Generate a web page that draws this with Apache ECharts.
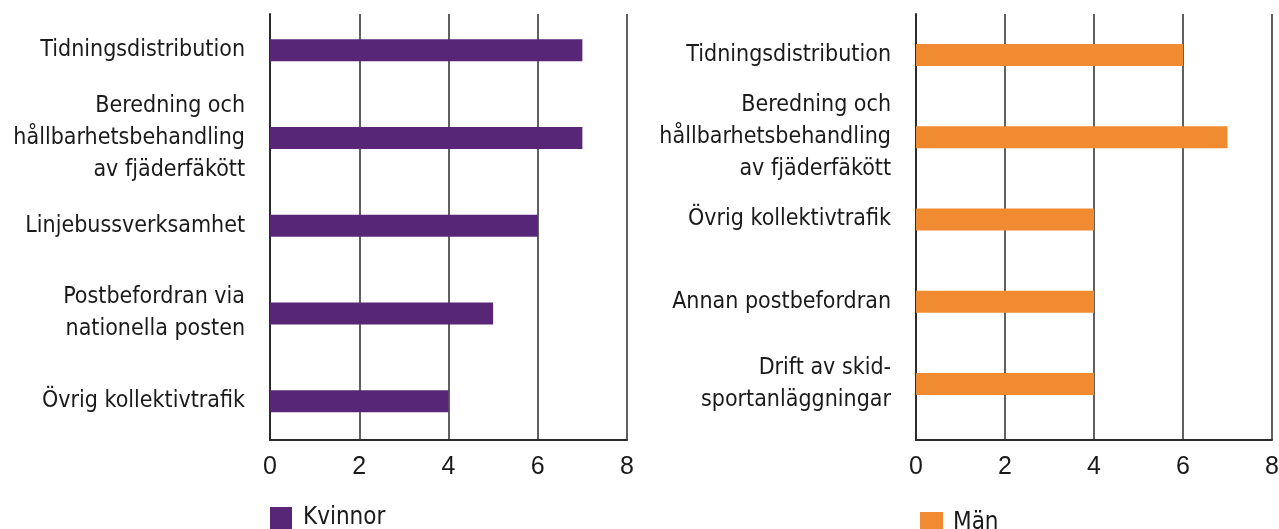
<!DOCTYPE html>
<html>
<head>
<meta charset="utf-8">
<script src="https://cdn.jsdelivr.net/npm/echarts@6/dist/echarts.min.js"></script>
<style>
html,body{margin:0;padding:0;background:#fff;}
#chart{width:1279px;height:529px;}
</style>
</head>
<body>
<div id="chart"></div>
<script>
const womenCategories = ['Tidningsdistribution', 'Beredning och\nhållbarhetsbehandling\nav fjäderfäkött', 'Linjebussverksamhet', 'Postbefordran via\nnationella posten', 'Övrig kollektivtrafik'];
const womenValues = [7, 7, 6, 5, 4];
const menCategories = ['Tidningsdistribution', 'Beredning och\nhållbarhetsbehandling\nav fjäderfäkött', 'Övrig kollektivtrafik', 'Annan postbefordran', 'Drift av skid-\nsportanläggningar'];
const menValues = [6, 7, 4, 4, 4];
const xTicks = [0, 2, 4, 6, 8];
const womenName = 'Kvinnor';
const menName = 'Män';

const FONT = '"DejaVu Sans Condensed", "DejaVu Sans", sans-serif';
const TICKFONT = '"Liberation Sans", Arial, sans-serif';
const TXT = '#1a1a1a';
const LINE = '#2b2b2b';
const PURPLE = '#582677';
const ORANGE = '#f08b31';

const chart = echarts.init(document.getElementById('chart'), null, {renderer: 'canvas'});

function axisX(gridIndex, visible) {
  return {
    type: 'value', gridIndex: gridIndex, min: xTicks[0], max: xTicks[xTicks.length - 1], interval: xTicks[1] - xTicks[0],
    show: visible,
    axisLine: {show: true, lineStyle: {color: LINE, width: 2}},
    axisTick: {show: false},
    splitLine: {show: true, lineStyle: {color: LINE, width: 1.5}},
    axisLabel: {show: true, color: TXT, fontFamily: TICKFONT, fontSize: 25, margin: 15}
  };
}
function axisYFrame(gridIndex) {
  return {
    type: 'value', gridIndex: gridIndex, min: 0, max: 1,
    axisLine: {show: true, lineStyle: {color: LINE, width: 2}},
    axisTick: {show: false}, axisLabel: {show: false}, splitLine: {show: false}
  };
}
function axisYCat(gridIndex, cats) {
  return {
    type: 'category', gridIndex: gridIndex, data: cats, inverse: true,
    axisLine: {show: false}, axisTick: {show: false}, splitLine: {show: false},
    axisLabel: {color: TXT, fontFamily: FONT, fontSize: 23, lineHeight: 32, margin: 25, align: 'right'}
  };
}
function grid(left, width, top, height) {
  return {left: left, width: width, top: top, height: height, containLabel: false, outerBoundsMode: 'none'};
}

chart.setOption({
  animation: false,
  backgroundColor: '#ffffff',
  grid: [
    grid(270, 357, 14, 426),
    grid(270, 357, 6.4, 438.75),
    grid(916, 356, 14, 426),
    grid(916, 356, 14, 411)
  ],
  xAxis: [axisX(0, true), axisX(1, false), axisX(2, true), axisX(3, false)],
  yAxis: [axisYFrame(0), axisYCat(1, womenCategories), axisYFrame(2), axisYCat(3, menCategories)],
  legend: [
    {data: [womenName], left: 270, top: 506, padding: 0, itemWidth: 22, itemHeight: 22, itemGap: 10, icon: 'rect',
     textStyle: {color: TXT, fontFamily: FONT, fontSize: 24, padding: [0, 0, 0, 6]}},
    {data: [menName], left: 920, top: 511, padding: 0, itemWidth: 23, itemHeight: 22, itemGap: 10, icon: 'rect',
     textStyle: {color: TXT, fontFamily: FONT, fontSize: 24, padding: [0, 0, 0, 5]}}
  ],
  series: [
    {name: womenName, type: 'bar', xAxisIndex: 1, yAxisIndex: 1, data: womenValues, barWidth: 22,
     itemStyle: {color: PURPLE}},
    {name: menName, type: 'bar', xAxisIndex: 3, yAxisIndex: 3, data: menValues, barWidth: 22,
     itemStyle: {color: ORANGE}}
  ]
});
</script>
</body>
</html>
